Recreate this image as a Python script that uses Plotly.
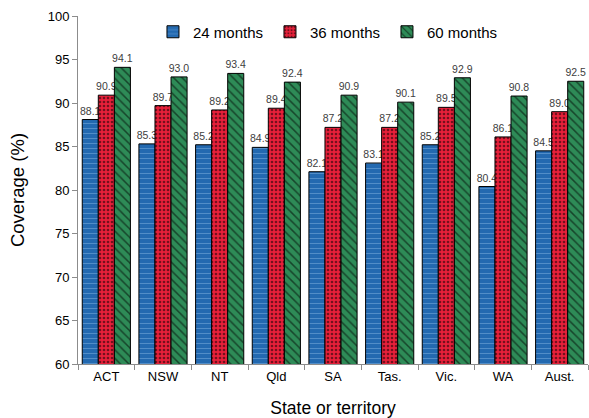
import plotly.graph_objects as go

categories = ["ACT", "NSW", "NT", "Qld", "SA", "Tas.", "Vic.", "WA", "Aust."]
m24 = [88.1, 85.3, 85.2, 84.9, 82.1, 83.1, 85.2, 80.4, 84.5]
m36 = [90.9, 89.7, 89.2, 89.4, 87.2, 87.2, 89.5, 86.1, 89.0]
m60 = [94.1, 93.0, 93.4, 92.4, 90.9, 90.1, 92.9, 90.8, 92.5]

series = [
    ("24 months", m24, "#2369b0", dict(shape="-", fgcolor="#7fb2e0", size=5, solidity=0.2)),
    ("36 months", m36, "#e8203a", dict(shape=".", fgcolor="#000000", size=4, solidity=0.35)),
    ("60 months", m60, "#2e8b57", dict(shape="\\", fgcolor="#000000", size=6, solidity=0.25)),
]

fig = go.Figure()
for name, vals, color, pat in series:
    fig.add_trace(go.Bar(
        name=name, x=categories, y=vals,
        marker=dict(color=color, line=dict(color="#000000", width=1), pattern=pat),
        text=[f"{v:.1f}" for v in vals], textposition="outside",
        textfont=dict(size=10.5, color="#404040"), cliponaxis=False,
    ))

fig.update_layout(
    width=589, height=418,
    margin=dict(l=78, r=1, t=16, b=54),
    paper_bgcolor="white", plot_bgcolor="white",
    font=dict(family="Liberation Sans, Arial, sans-serif", size=13, color="#000000"),
    barmode="group", bargap=0.15, bargroupgap=0,
    showlegend=True,
    legend=dict(orientation="h", x=0.147, xanchor="left", y=0.954, yanchor="middle",
                font=dict(size=15), bgcolor="rgba(0,0,0,0)",
                entrywidth=72, entrywidthmode="pixels"),
    uniformtext=dict(minsize=10, mode="show"),
)
fig.update_yaxes(range=[60, 100], dtick=5, showgrid=False, showline=True,
                 linecolor="#8c8c8c", ticks="outside", ticklen=5, tickcolor="#8c8c8c",
                 title=dict(text="Coverage (%)", font=dict(size=18.5), standoff=18),
                 automargin=False, zeroline=False)
fig.update_xaxes(showgrid=False, showline=True, linecolor="#8c8c8c",
                 ticks="outside", tickson="boundaries", ticklen=5, tickcolor="#8c8c8c",
                 title=dict(text="State or territory", font=dict(size=17.5), standoff=31),
                 automargin=False)

fig.write_html("out.html", config={"displayModeBar": False},
               post_script="document.body.style.margin='0';document.body.style.overflow='hidden';")
